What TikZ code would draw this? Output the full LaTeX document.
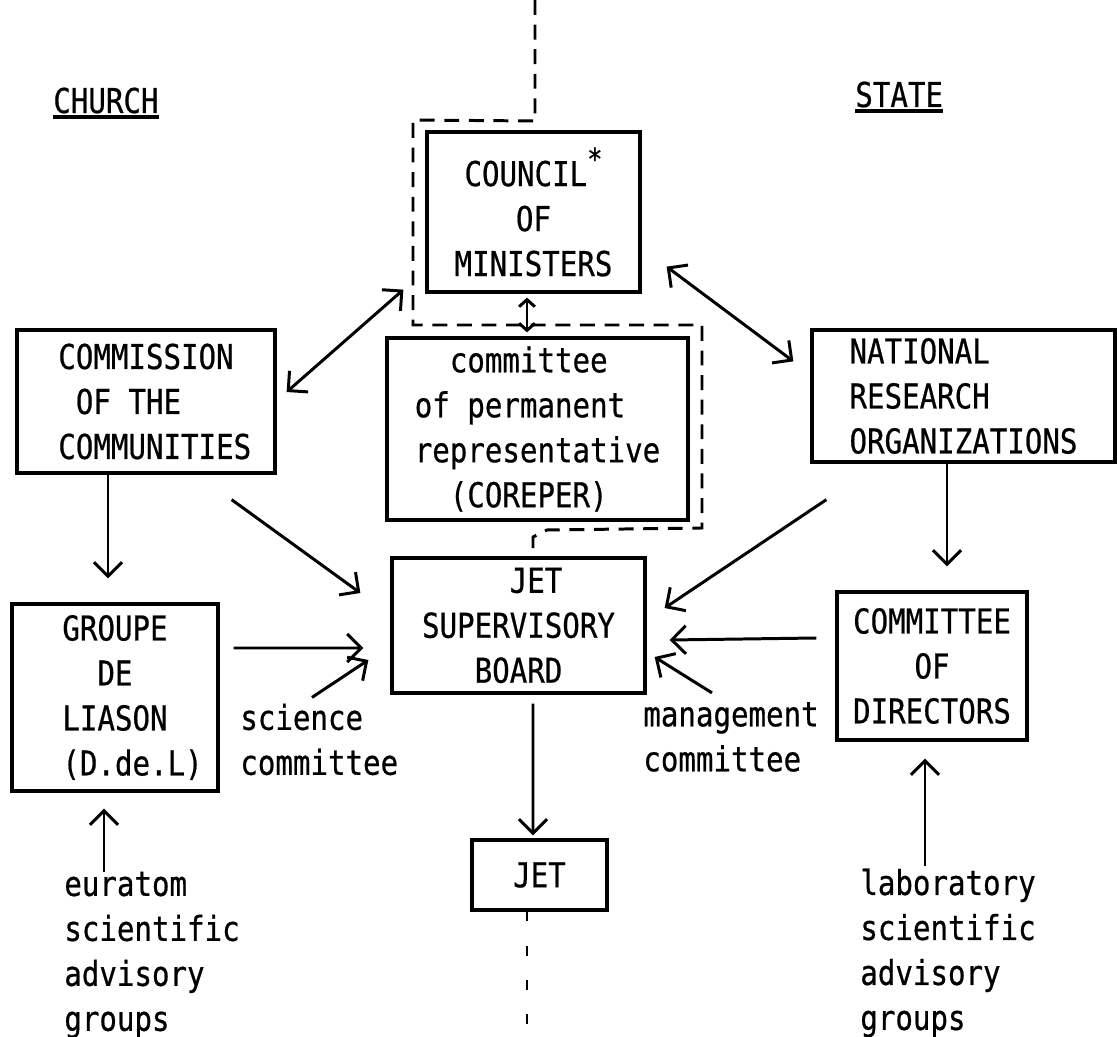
\documentclass[tikz,border=0pt]{standalone}
\usepackage{fontspec}
\setmainfont[FakeStretch=0.85,FakeBold=0.6]{DejaVu Sans Mono}
\usetikzlibrary{arrows.meta,calc}
\newcommand\ulword[1]{\setbox0\hbox{#1}\rlap{\raisebox{-3.2pt}{\rule{\wd0}{1.8pt}}}\box0}
\newcommand\ind[1]{\hphantom{#1}}
\begin{document}
\begin{tikzpicture}[x=0.02cm,y=-0.02cm,
  every node/.style={font=\fontsize{19.5}{25.6}\selectfont},
  box/.style={draw, line width=1.9pt, inner sep=0pt, align=center},
  lbl/.style={inner sep=0pt, align=left},
  >={Straight Barb[length=8pt,width=16pt]},
  conn/.style={line width=1.7pt,->},
  dconn/.style={line width=1.7pt,<->},
  dconnsmall/.style={line width=1.7pt,{Straight Barb[length=4pt,width=9pt]}-{Straight Barb[length=4pt,width=9pt]}},
  divider/.style={line width=1.7pt, dash pattern=on 8.5pt off 5.5pt},
  dividerlow/.style={line width=1.7pt, dash pattern=on 5.5pt off 14pt}]
\useasboundingbox (0,0) rectangle (1117,1037);

% boxes
\node[box, minimum width=4.26cm, minimum height=3.2cm] (council) at (533.5,212)
  {COUNCIL{\fontsize{17}{17}\selectfont\raisebox{0.55em}{*}}\\OF\\MINISTERS};
\node[box, align=left, minimum width=6.02cm, minimum height=3.64cm] (coreper) at (537.5,429)
  {\ind{XX}committee\\of permanent\\representative\\\ind{XX}(COREPER)};
\node[box, align=left, minimum width=5.16cm, minimum height=2.86cm] (commission) at (146,401.5)
  {\ind{X}COMMISSION\\\ind{XX}OF THE\\\ind{X}COMMUNITIES};
\node[box, align=left, minimum width=6.06cm, minimum height=2.64cm] (nro) at (963.5,396)
  {NATIONAL\\RESEARCH\\ORGANIZATIONS};
\node[box, align=left, minimum width=4.12cm, minimum height=3.74cm] (groupe) at (115,697.5)
  {\ind{XX}GROUPE\\\ind{XXXX}DE\\\ind{XX}LIASON\\\ind{XX}(D.de.L)};
\node[box, align=left, minimum width=5.06cm, minimum height=2.7cm] (jsb) at (518.5,625.5)
  {\ind{XXXXX}JET\\SUPERVISORY\\\ind{XXX}BOARD};
\node[box, minimum width=3.8cm, minimum height=2.96cm] (cod) at (932,666)
  {COMMITTEE\\OF\\DIRECTORS};
\node[box, minimum width=2.7cm, minimum height=1.4cm] (jet) at (539.5,875) {JET};

% free labels
\node[lbl, anchor=base west] (church) at (53,113) {\ulword{CHURCH}};
\node[lbl, anchor=base west] (state) at (855,107) {\ulword{STATE}};
\node[lbl, anchor=west] (science) at (240,739.5) {science\\committee};
\node[lbl, anchor=west] (mgmt) at (643,737) {management\\committee};
\node[lbl, anchor=west] (euratom) at (64,955) {euratom\\scientific\\advisory\\groups};
\node[lbl, anchor=west] (lab) at (860,953) {laboratory\\scientific\\advisory\\groups};

% connectors
\draw[dconn] ([shift={(10,-9.5)}]commission.east) -- ([shift={(-22,-4)}]council.south west);
\draw[dconn] ([shift={(25,-27)}]council.south east) -- ([shift={(-17,33)}]nro.north west);
\draw[dconnsmall] ([shift={(-6.5,4)}]council.south) -- ([shift={(-10.5,-4)}]coreper.north);
\draw[conn] ([shift={(-38,0)}]commission.south) -- ([shift={(-7,-24)}]groupe.north);
\draw[conn] ([shift={(-45,25)}]commission.south east) -- ([shift={(-30,-32.5)}]jsb.west);
\draw[conn] ([shift={(14,-49.5)}]groupe.east) -- ([shift={(-27,22.5)}]jsb.west);
\draw[conn] ([shift={(72,-6)}]science.north west) -- ([shift={(-22,34.5)}]jsb.west);
\draw[conn] ([shift={(16,36)}]nro.south west) -- ([shift={(18,-17.5)}]jsb.east);
\draw[conn] ([shift={(-19,-28)}]cod.west) -- ([shift={(23,14.5)}]jsb.east);
\draw[conn] ([shift={(69,-9)}]mgmt.north west) -- ([shift={(8,31.5)}]jsb.east);
\draw[conn] ([shift={(-16.5,0)}]nro.south) -- ([shift={(15,-24)}]cod.north);
\draw[conn] ([shift={(14.5,9)}]jsb.south) -- ([shift={(-6.5,-3)}]jet.north);
\draw[conn] ([shift={(40,1)}]euratom.north west) -- ([shift={(-11,16)}]groupe.south);
\draw[conn] ([shift={(65,-2)}]lab.north west) -- ([shift={(-7,17)}]cod.south);

% dividing line
\coordinate (divtop) at (535,0);
\coordinate (divbot) at (527,1037);
\draw[divider] (divtop) -- (535,121) -- (413,120) -- (413,325) -- (702,325)
  -- (702,528) -- (547,530) -- (533,537) -- (533,551);
\draw[dividerlow] (jet.south -| divbot) -- (divbot);
\end{tikzpicture}
\end{document}
